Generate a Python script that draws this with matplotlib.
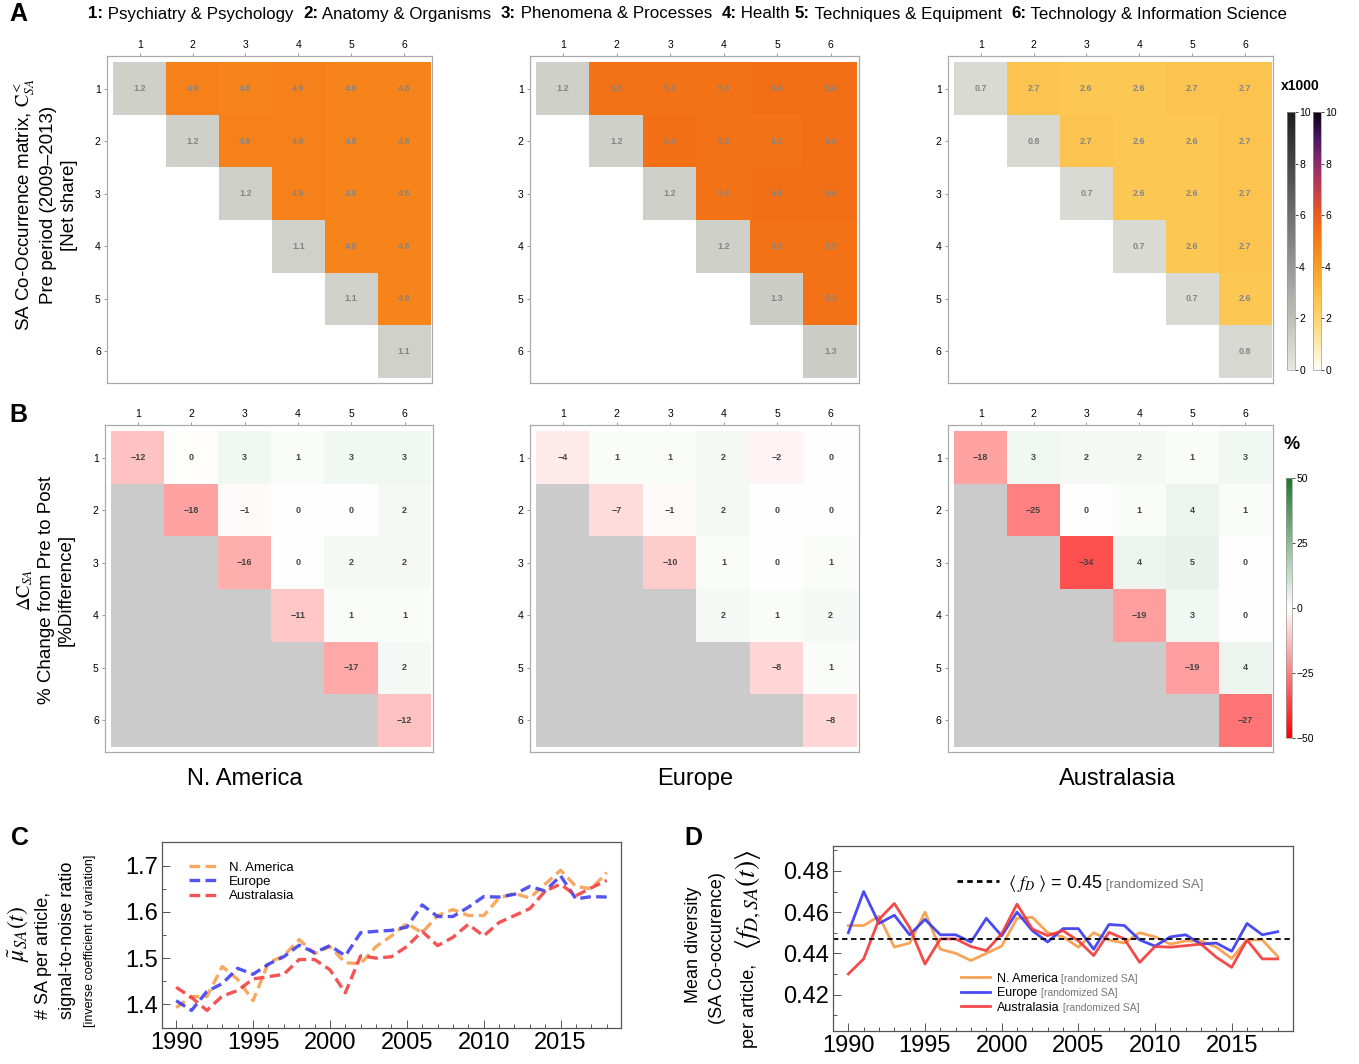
import matplotlib
matplotlib.use("Agg")
import matplotlib.pyplot as plt
import numpy as np
from matplotlib.cm import ScalarMappable
from matplotlib.colors import LinearSegmentedColormap, ListedColormap, Normalize
from matplotlib.lines import Line2D
from matplotlib.ticker import MultipleLocator

plt.rcParams["font.family"] = ["Liberation Sans", "DejaVu Sans"]
plt.rcParams["mathtext.fontset"] = "stix"

W, H = 1359, 1064

# ---- data -----------------------------------------------------------------
CATEGORIES = ["1", "2", "3", "4", "5", "6"]
REGIONS = ["N. America", "Europe", "Australasia"]
HEADER = [
    ("1:", " Psychiatry & Psychology  "),
    ("2:", " Anatomy & Organisms  "),
    ("3:", " Phenomena & Processes  "),
    ("4:", " Health "),
    ("5:", " Techniques & Equipment  "),
    ("6:", " Technology & Information Science"),
]

# upper-triangle rows (row i holds columns i..6), net share x1000
NA_PRE = [[1.2, 4.9, 4.8, 4.9, 4.8, 4.8], [1.2, 4.9, 4.9, 4.8, 4.8],
          [1.2, 4.9, 4.8, 4.8], [1.1, 4.8, 4.8], [1.1, 4.8], [1.1]]
EU_PRE = [[1.2, 5.3, 5.3, 5.3, 5.4, 5.4], [1.2, 5.4, 5.3, 5.3, 5.4],
          [1.2, 5.3, 5.4, 5.4], [1.2, 5.3, 5.3], [1.3, 5.3], [1.3]]
AU_PRE = [[0.7, 2.7, 2.6, 2.6, 2.7, 2.7], [0.8, 2.7, 2.6, 2.6, 2.7],
          [0.7, 2.6, 2.6, 2.7], [0.7, 2.6, 2.7], [0.7, 2.6], [0.8]]

# % change from pre to post, upper-triangle rows
NA_DELTA = [[-12, -0.4, 3, 1, 3, 3], [-18, -1, 0, 0, 2], [-16, 0, 2, 2],
            [-11, 1, 1], [-17, 2], [-12]]
EU_DELTA = [[-4, 1, 1, 2, -2, 0], [-7, -1, 2, 0, 0], [-10, 1, 0, 1],
            [2, 1, 2], [-8, 1], [-8]]
AU_DELTA = [[-18, 3, 2, 2, 1, 3], [-25, 0, 1, 4, 1], [-34, 4, 5, 0],
            [-19, 3, 0], [-19, 4], [-27]]

YEARS = list(range(1990, 2019))
SNR_NA = [1.393, 1.417, 1.417, 1.482, 1.454, 1.408, 1.490, 1.505, 1.540, 1.510,
          1.525, 1.490, 1.488, 1.525, 1.548, 1.575, 1.555, 1.592, 1.605, 1.592,
          1.592, 1.630, 1.640, 1.630, 1.660, 1.690, 1.655, 1.650, 1.685]
SNR_EU = [1.408, 1.387, 1.428, 1.445, 1.478, 1.465, 1.487, 1.503, 1.528, 1.512,
          1.527, 1.505, 1.555, 1.558, 1.560, 1.567, 1.615, 1.590, 1.590, 1.610,
          1.633, 1.632, 1.638, 1.655, 1.645, 1.678, 1.628, 1.633, 1.632]
SNR_AU = [1.437, 1.415, 1.387, 1.418, 1.430, 1.455, 1.460, 1.465, 1.497, 1.497,
          1.475, 1.425, 1.505, 1.500, 1.503, 1.525, 1.558, 1.527, 1.545, 1.573,
          1.548, 1.577, 1.592, 1.607, 1.645, 1.660, 1.635, 1.652, 1.668]

DIV_NA = [0.4535, 0.4535, 0.458, 0.443, 0.445, 0.460, 0.442, 0.440, 0.4365, 0.440,
          0.4435, 0.457, 0.4575, 0.450, 0.448, 0.443, 0.450, 0.4465, 0.445, 0.450,
          0.448, 0.4445, 0.446, 0.446, 0.443, 0.4375, 0.4465, 0.4465, 0.4385]
DIV_EU = [0.450, 0.470, 0.4545, 0.4585, 0.449, 0.4565, 0.449, 0.449, 0.4455, 0.457,
          0.4485, 0.460, 0.451, 0.4455, 0.452, 0.452, 0.442, 0.454, 0.4535, 0.4465,
          0.4435, 0.448, 0.449, 0.4445, 0.445, 0.441, 0.4545, 0.449, 0.4505]
DIV_AU = [0.430, 0.4373, 0.4565, 0.4642, 0.4525, 0.4348, 0.447, 0.447, 0.4433, 0.4413,
          0.4494, 0.4639, 0.4518, 0.4486, 0.451, 0.4461, 0.4389, 0.4502, 0.447, 0.4356,
          0.4433, 0.443, 0.4437, 0.4445, 0.4381, 0.4332, 0.4465, 0.4373, 0.4373]
DIV_RANDOM = 0.447

# ---- colour maps ----------------------------------------------------------
SUNSET = LinearSegmentedColormap.from_list("sunset", [
    (0.0, "#fffdf6"), (0.1, "#fde9ae"), (0.2, "#fcd46e"), (0.27, "#fdc54f"),
    (0.4, "#f99d22"), (0.48, "#f7841a"), (0.53, "#f47216"), (0.545, "#f36f15"),
    (0.62, "#e4572a"), (0.7, "#c23d4c"), (0.8, "#8c2b6c"), (0.9, "#481862"),
    (1.0, "#0a0012")])
GRAYS = LinearSegmentedColormap.from_list("grays", ["#e8e8e2", "#1e1e1e"])
DIVERGE = LinearSegmentedColormap.from_list("diverge", ["#ff0000", "#ffffff", "#1a7a2a"])
LOWER = ListedColormap(["#cbcbcb"])
EXTENT = (-0.5, 5.5, 5.5, -0.5)


def full_matrix(rows):
    m = np.full((6, 6), np.nan)
    for i, row in enumerate(rows):
        m[i, i:] = row
    return m


def style_matrix_axes(ax):
    ax.set_aspect("auto")
    ax.set_xlim(-0.62, 5.53)
    ax.set_ylim(5.6, -0.62)
    ax.xaxis.tick_top()
    ax.set_xticks(range(6), CATEGORIES)
    ax.set_yticks(range(6), CATEGORIES)
    ax.tick_params(length=2.5, width=0.6, color="#888888", labelsize=7.5, pad=2)
    for sp in ax.spines.values():
        sp.set_color("#aaaaaa")
        sp.set_linewidth(0.9)


def draw_pre(ax, rows):
    m = full_matrix(rows)
    eye = np.eye(6, dtype=bool)
    off = np.ma.masked_invalid(np.where(eye, np.nan, m))
    diag = np.ma.masked_invalid(np.where(eye, m, np.nan))
    ax.imshow(off, cmap=SUNSET, norm=Normalize(0, 10), extent=EXTENT, interpolation="nearest")
    ax.imshow(diag, cmap=GRAYS, norm=Normalize(0, 10), extent=EXTENT, interpolation="nearest")
    for i in range(6):
        for j in range(i, 6):
            ax.text(j, i, f"{m[i, j]:.1f}", ha="center", va="center",
                    fontsize=6.5, color="#858585", fontweight="bold")
    style_matrix_axes(ax)


def draw_delta(ax, rows):
    m = full_matrix(rows)
    lower = np.ma.masked_array(np.zeros((6, 6)), mask=~np.tri(6, k=-1, dtype=bool))
    ax.imshow(lower, cmap=LOWER, extent=EXTENT, interpolation="nearest")
    ax.imshow(np.ma.masked_invalid(m), cmap=DIVERGE, norm=Normalize(-50, 50),
              extent=EXTENT, interpolation="nearest")
    for i in range(6):
        for j in range(i, 6):
            v = int(round(m[i, j]))
            ax.text(j, i, f"{v}".replace("-", "\u2212"), ha="center", va="center",
                    fontsize=6.5, color="#444444", fontweight="bold")
    style_matrix_axes(ax)


fig = plt.figure(figsize=(W / 100, H / 100), dpi=100)


def px_axes(x0, y0, x1, y1):
    return fig.add_axes([x0 / W, 1 - y1 / H, (x1 - x0) / W, (y1 - y0) / H])


pre_frames = [(107, 56, 432, 383), (530, 56, 859, 383), (948, 56, 1273, 383)]
delta_frames = [(105, 425, 433, 752), (530, 425, 859, 752), (948, 425, 1273, 752)]
for frame, rows in zip(pre_frames, [NA_PRE, EU_PRE, AU_PRE]):
    draw_pre(px_axes(*frame), rows)
for frame, rows in zip(delta_frames, [NA_DELTA, EU_DELTA, AU_DELTA]):
    draw_delta(px_axes(*frame), rows)

for name, cx in zip(REGIONS, [245, 695, 1117]):
    fig.text(cx / W, 1 - 779 / H, name, ha="center", va="center", fontsize=17)

# colour bars
for cmap, x0 in [(GRAYS, 1287), (SUNSET, 1313)]:
    cax = px_axes(x0, 112, x0 + 8, 370)
    cb = fig.colorbar(ScalarMappable(norm=Normalize(0, 10), cmap=cmap), cax=cax,
                      ticks=[0, 2, 4, 6, 8, 10])
    cb.outline.set_linewidth(0.5)
    cb.outline.set_edgecolor("#999999")
    cax.tick_params(labelsize=7.5, length=2, width=0.5, pad=1)
fig.text(1281 / W, 1 - 86 / H, "x1000", fontsize=10, fontweight="bold", va="center")

cax = px_axes(1286, 478, 1292, 738)
cb = fig.colorbar(ScalarMappable(norm=Normalize(-50, 50), cmap=DIVERGE), cax=cax,
                  ticks=[-50, -25, 0, 25, 50])
cb.outline.set_linewidth(0.5)
cb.outline.set_edgecolor("#999999")
cax.tick_params(labelsize=7.5, length=2, width=0.5, pad=1)
fig.text(1283 / W, 1 - 445 / H, "%", fontsize=13, fontweight="bold", va="center")

# header line with bold numbers
HEADER_SIZE = 12.2
prev = fig.text(88 / W, 1 - 14 / H, HEADER[0][0], fontsize=HEADER_SIZE, fontweight="bold",
                va="center", ha="left")
first = True
for num, name in HEADER:
    if not first:
        prev = fig.axes[0].annotate(num, xy=(1, 0), xycoords=prev, va="bottom", ha="left",
                                    fontsize=HEADER_SIZE, fontweight="bold",
                                    annotation_clip=False, zorder=10)
    first = False
    prev = fig.axes[0].annotate(name, xy=(1, 0), xycoords=prev, va="bottom", ha="left",
                                fontsize=HEADER_SIZE, annotation_clip=False, zorder=10)

# panel letters
for letter, x, y in [("A", 18, 14), ("B", 18, 415), ("C", 20, 838), ("D", 693, 838)]:
    fig.text(x / W, 1 - y / H, letter, fontsize=18, fontweight="bold", va="center", ha="center")

# row labels for A and B
fig.text(45 / W, 1 - 205 / H,
         "SA Co-Occurrence matrix, $\\mathrm{C}^{<}_{SA}$\nPre period (2009\u20132013)\n[Net share]",
         rotation=90, ha="center", va="center", fontsize=13.5, linespacing=1.25)
fig.text(45 / W, 1 - 590 / H,
         "$\\Delta\\mathrm{C}_{SA}$\n% Change from Pre to Post\n[%Difference]",
         rotation=90, ha="center", va="center", fontsize=13.5, linespacing=1.25)

# ---- panel C --------------------------------------------------------------
COL_NA, COL_EU, COL_AU = "#f79a45", "#3636f2", "#f23636"
axc = px_axes(162, 842, 621, 1028)
dash = (0, (3.2, 1.6))
axc.plot(YEARS, SNR_NA, color=COL_NA, lw=2.4, ls=dash, alpha=0.85, label="N. America")
axc.plot(YEARS, SNR_EU, color=COL_EU, lw=2.4, ls=dash, alpha=0.85, label="Europe")
axc.plot(YEARS, SNR_AU, color=COL_AU, lw=2.4, ls=dash, alpha=0.85, label="Australasia")
axc.set_xlim(1989.08, 2018.93)
axc.set_ylim(1.349, 1.751)
axc.set_xticks([1990, 1995, 2000, 2005, 2010, 2015])
axc.set_yticks([1.4, 1.5, 1.6, 1.7])
axc.xaxis.set_minor_locator(MultipleLocator(1))
axc.yaxis.set_minor_locator(MultipleLocator(0.05))
axc.legend(loc="center left", bbox_to_anchor=(0.045, 0.785), frameon=False, fontsize=9.5,
           handlelength=2.4, labelspacing=0.15, borderpad=0, handletextpad=0.6)

fig.text(18 / W, 1 - 934 / H, "$\\tilde{\\mu}_{SA}(t)$", rotation=90, ha="center",
         va="center", fontsize=17)
fig.text(44 / W, 1 - 955 / H, "# SA per article,", rotation=90, ha="center", va="center",
         fontsize=13)
fig.text(68 / W, 1 - 940 / H, "signal-to-noise ratio", rotation=90, ha="center",
         va="center", fontsize=13)
fig.text(90 / W, 1 - 941 / H, "[inverse coefficient of variation]", rotation=90,
         ha="center", va="center", fontsize=9)

# ---- panel D --------------------------------------------------------------
axd = px_axes(833, 846, 1293, 1031)
h_na, = axd.plot(YEARS, DIV_NA, color=COL_NA, lw=2.0, alpha=0.9)
h_eu, = axd.plot(YEARS, DIV_EU, color=COL_EU, lw=2.0, alpha=0.9)
h_au, = axd.plot(YEARS, DIV_AU, color=COL_AU, lw=2.0, alpha=0.9)
axd.axhline(DIV_RANDOM, color="black", lw=1.3, ls=(0, (3, 2)))
axd.set_xlim(1989.0, 2019.0)
axd.set_ylim(0.4023, 0.4921)
axd.set_xticks([1990, 1995, 2000, 2005, 2010, 2015])
axd.set_yticks([0.42, 0.44, 0.46, 0.48])
axd.xaxis.set_minor_locator(MultipleLocator(1))
axd.yaxis.set_minor_locator(MultipleLocator(0.01))

leg_top = axd.legend([Line2D([], [], color="black", lw=2, ls=(0, (2, 1.5)))],
                     ["$\\langle\\ f_D\\ \\rangle$ = 0.45"], loc="center left",
                     bbox_to_anchor=(0.25, 0.8), frameon=False, fontsize=13,
                     handlelength=2.3, borderpad=0, handletextpad=0.5)
axd.add_artist(leg_top)
axd.annotate(" [randomized SA]", xy=(1, 0.12), xycoords=leg_top.get_texts()[0],
             va="bottom", ha="left", fontsize=9.5, color="#777777",
             annotation_clip=False, zorder=10)

leg_bot = axd.legend([h_na, h_eu, h_au], REGIONS, loc="center left",
                     bbox_to_anchor=(0.265, 0.205), frameon=False, fontsize=9,
                     handlelength=2.3, labelspacing=0.2, borderpad=0, handletextpad=0.6)
for t in leg_bot.get_texts():
    axd.annotate(" [randomized SA]", xy=(1, 0.05), xycoords=t, va="bottom", ha="left",
                 fontsize=7.5, color="#777777", annotation_clip=False, zorder=10)

fig.text(693 / W, 1 - 945 / H, "Mean diversity", rotation=90, ha="center", va="center",
         fontsize=13)
fig.text(718 / W, 1 - 948 / H, "(SA Co-occurence)", rotation=90, ha="center",
         va="center", fontsize=13)
fig.text(749 / W, 1 - 1006 / H, "per article,", rotation=90, ha="center", va="center",
         fontsize=13)
fig.text(749 / W, 1 - 900 / H, "$\\langle f_{D,SA}(t) \\rangle$", rotation=90,
         ha="center", va="center", fontsize=20)

for ax in (axc, axd):
    ax.tick_params(which="both", direction="in", width=0.7, color="#555555")
    ax.tick_params(which="major", length=6, labelsize=17, pad=3)
    ax.tick_params(which="minor", length=3)
    for sp in ax.spines.values():
        sp.set_color("#555555")
        sp.set_linewidth(0.9)

fig.savefig("out.png", dpi=100)
